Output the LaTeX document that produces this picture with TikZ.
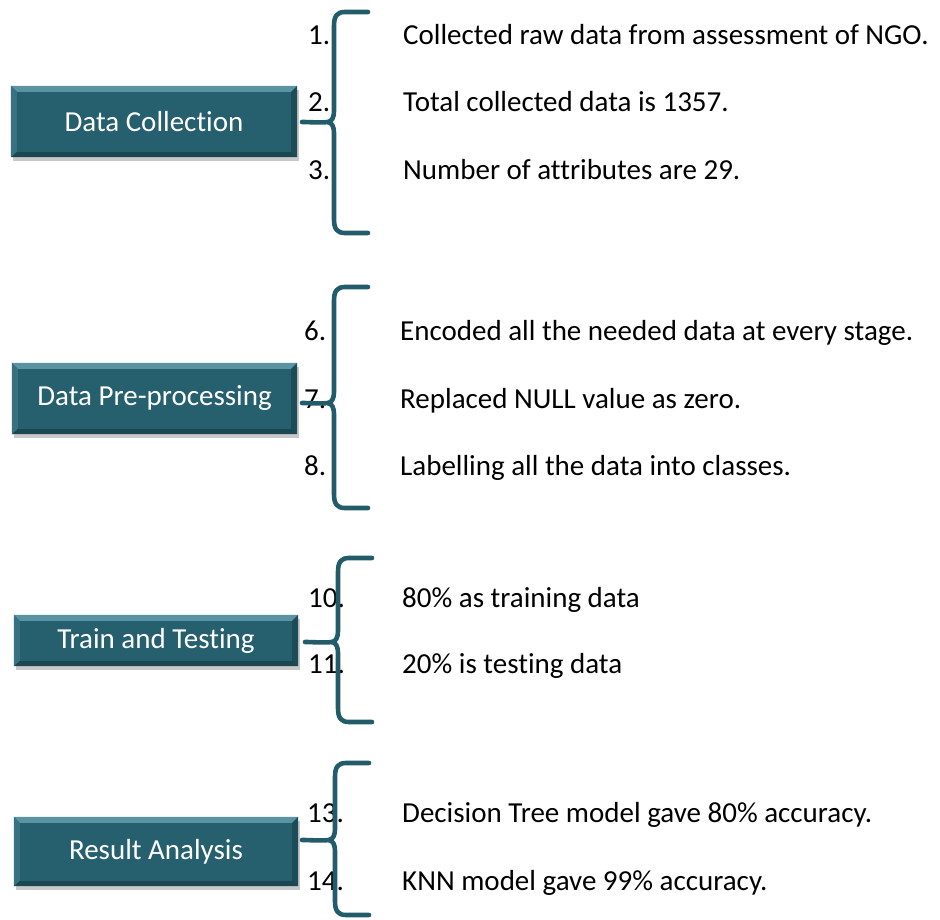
\documentclass[tikz,border=0pt]{standalone}
\usepackage{fontspec}
\setmainfont{Carlito}[Ligatures=NoCommon]
\usetikzlibrary{shadows}
\definecolor{boxteal}{HTML}{26606F}
\definecolor{bevtop}{HTML}{5A93A1}
\definecolor{bevleft}{HTML}{3A7160}
\definecolor{bevleft}{HTML}{3A7180}
\definecolor{bevright}{HTML}{1D4C59}
\definecolor{bevbot}{HTML}{1B4753}
\definecolor{braceteal}{HTML}{225C6B}
\tikzset{
  stagebox/.style={fill=boxteal, draw=none, inner sep=0pt, text=white,
    drop shadow={shadow xshift=2pt, shadow yshift=-4pt, opacity=0.3, fill=black!70}},
  boxlabel/.style={text=white, inner sep=0pt, font=\fontsize{29}{34}\selectfont},
  itemtext/.style={anchor=base west, inner sep=0pt, text=black, font=\fontsize{29}{34}\selectfont},
  numtext/.style={anchor=base west, inner sep=0pt, text=black, font=\fontsize{29}{34}\selectfont},
  bracestyle/.style={draw=braceteal, line width=4.6pt, line cap=round, line join=round},
}
\newcommand{\tealbrace}[5]{%
  \draw[bracestyle] (#1+34,#2) -- (#1+11,#2) .. controls (#1+3,#2) and (#1,#2+4) .. (#1,#2+14)
    -- (#1,#3-12) .. controls (#1,#3-4) and (#1-2,#3-1) .. (#1-6,#3)
    .. controls (#1-14,#3+1) and (#5+8,#3) .. (#5,#3);
  \draw[bracestyle] (#1-6,#3) .. controls (#1-2,#3+1) and (#1,#3+4) .. (#1,#3+12)
    -- (#1,#4-14) .. controls (#1,#4-4) and (#1+3,#4) .. (#1+11,#4) -- (#1+34,#4);
}
\newcommand{\bevel}[1]{%
  \fill[bevtop] (#1.north west) -- (#1.north east) -- ([xshift=-6pt,yshift=-6pt]#1.north east) -- ([xshift=6pt,yshift=-6pt]#1.north west) -- cycle;
  \fill[bevleft] (#1.north west) -- ([xshift=6pt,yshift=-6pt]#1.north west) -- ([xshift=6pt,yshift=5pt]#1.south west) -- (#1.south west) -- cycle;
  \fill[bevright] (#1.north east) -- ([xshift=-6pt,yshift=-6pt]#1.north east) -- ([xshift=-6pt,yshift=5pt]#1.south east) -- (#1.south east) -- cycle;
  \fill[bevbot] (#1.south west) -- ([xshift=6pt,yshift=5pt]#1.south west) -- ([xshift=-6pt,yshift=5pt]#1.south east) -- (#1.south east) -- cycle;
}
\begin{document}
\begin{tikzpicture}[x=1pt,y=-1pt]
\useasboundingbox[fill=white] (0,0) rectangle (940,920);

% boxes
\node[stagebox, minimum width=286pt, minimum height=71pt] (b1) at (154,121.5) {};
\bevel{b1}
\node[boxlabel] (t1) at (b1.center) {Data Collection};

\node[stagebox, minimum width=285pt, minimum height=71pt] (b2) at (154.5,398.5) {};
\bevel{b2}
\node[boxlabel] (t2) at (b2.center) {Data Pre-processing};

\node[stagebox, minimum width=284pt, minimum height=51pt] (b3) at (156,640.5) {};
\bevel{b3}
\node[boxlabel] (t3) at (b3.center) {Train and Testing};

\node[stagebox, minimum width=284pt, minimum height=69pt] (b4) at (156,851.5) {};
\bevel{b4}
\node[boxlabel] (t4) at (b4.center) {Result Analysis};

% group 1
\node[numtext] (n1) at (308,45) {1.};
\node[numtext] (n2) at (308,112) {2.};
\node[numtext] (n3) at (308,180) {3.};
\node[itemtext] (i1) at (403,45) {Collected raw data from assessment of NGO.};
\node[itemtext] (i2) at (403,112) {Total collected data is 1357.};
\node[itemtext] (i3) at (403,180) {Number of attributes are 29.};

% group 2
\node[numtext] (n6) at (304,340) {6.};
\node[numtext] (n7) at (304,408) {7.};
\node[numtext] (n8) at (304,475) {8.};
\node[itemtext] (i6) at (400,340) {Encoded all the needed data at every stage.};
\node[itemtext] (i7) at (400,408) {Replaced NULL value as zero.};
\node[itemtext] (i8) at (400,475) {Labelling all the data into classes.};

% group 3
\node[numtext] (n10) at (308,607) {10.};
\node[numtext] (n11) at (308,673) {11.};
\node[itemtext] (i10) at (402,607) {80\% as training data};
\node[itemtext] (i11) at (402,673) {20\% is testing data};

% group 4
\node[numtext] (n13) at (307,822) {13.};
\node[numtext] (n14) at (307,890) {14.};
\node[itemtext] (i13) at (402,822) {Decision Tree model gave 80\% accuracy.};
\node[itemtext] (i14) at (402,890) {KNN model gave 99\% accuracy.};

% braces
\tealbrace{334}{12}{122}{233}{302}
\tealbrace{334}{287}{403}{508}{302}
\tealbrace{338}{558}{642}{722}{305}
\tealbrace{335}{763}{840}{915}{302}
\end{tikzpicture}
\end{document}
